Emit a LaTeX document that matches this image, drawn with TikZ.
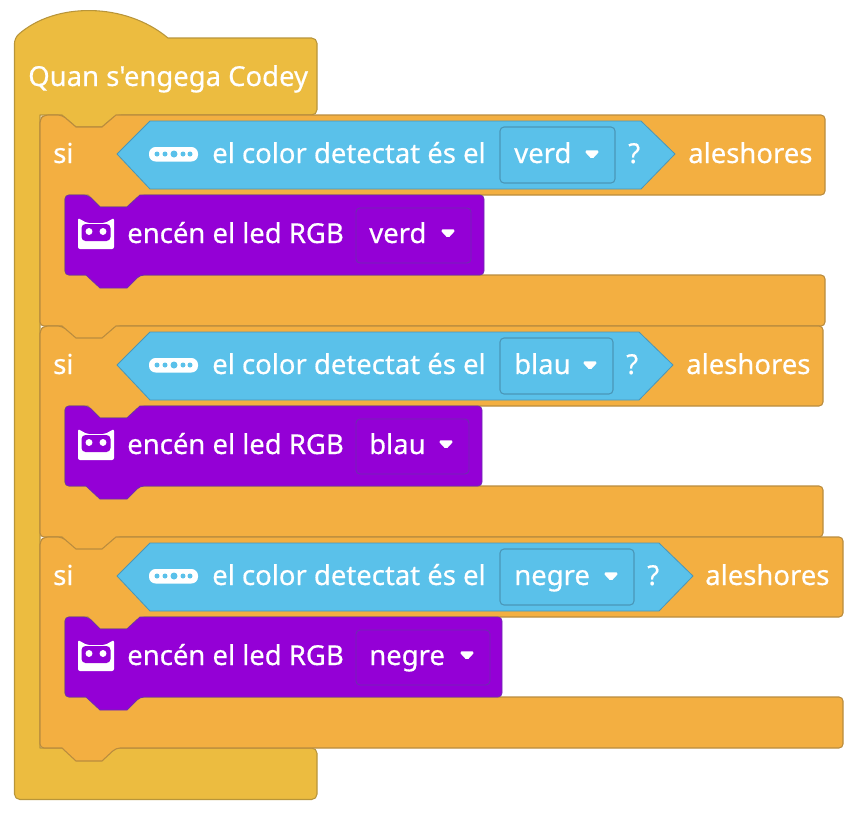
\documentclass[tikz,border=0pt]{standalone}
\usepackage{fontspec}
\newfontfamily\blockfont{Noto Sans}[FakeBold=0.5]
\usepackage{xcolor}
\usetikzlibrary{positioning,calc}
\definecolor{hatyellow}{HTML}{ECBC40}
\definecolor{hatline}{HTML}{B8953A}
\definecolor{ifbody}{HTML}{F3AF41}
\definecolor{ifline}{HTML}{BA8C3E}
\definecolor{ledbody}{HTML}{9400D6}
\definecolor{ledline}{HTML}{6F2CB0}
\definecolor{colorbody}{HTML}{5AC1EA}
\definecolor{colorline}{HTML}{4A96B8}
\tikzset{
    every picture/.style={line cap=round,line join=round},
    hatblock/.style={draw=hatline,fill=hatyellow,line width=0.8pt},
    ifblock/.style={draw=ifline,fill=ifbody,line width=0.8pt},
    ledblock/.style={draw=ledline,fill=ledbody,line width=0.6pt},
    sensor/.style={draw=colorline,fill=colorbody,line width=0.6pt},
    colormenu/.style={draw=colorline,fill=colorbody,line width=0.8pt,rounded corners=3pt},
    ledmenu/.style={draw=ledline,fill=ledbody,line width=0.7pt,rounded corners=3pt},
    blocktext/.style={text=white,font=\blockfont\fontsize{20.6}{22}\selectfont,inner sep=0pt,anchor=base west},
    menutip/.style={fill=white,draw=white,line width=0.9pt,rounded corners=1.2pt}
}
% one if block: top edge, right edge, led right, hex right, menu right, then-text x, menu text, name
\newcommand{\ifrow}[8]{%
  \draw[ifblock,rounded corners=3pt] (40,#1+11) -- (40,#1+4) -- (44,#1) -- (62,#1)
    [sharp corners] -- (76,#1+12) -- (102,#1+12) -- (116,#1) [rounded corners=3pt]
    -- (#2,#1) -- (#2,#1+80) -- (140,#1+80) [sharp corners] -- (127,#1+92) -- (100,#1+92) -- (88,#1+80)
    [rounded corners=3pt] -- (65,#1+80) -- (65,#1+160) -- (#2,#1+160) -- (#2,#1+211)
    -- (116,#1+211) [sharp corners] -- (102,#1+224) -- (76,#1+224) -- (62,#1+211)
    [rounded corners=3pt] -- (40,#1+211) -- cycle;
  \draw[ledblock,rounded corners=3pt] (65,#1+90) -- (65,#1+80) -- (88,#1+80)
    [sharp corners] -- (100,#1+92) -- (127,#1+92) -- (140,#1+80) [rounded corners=3pt]
    -- (#3,#1+80) -- (#3,#1+160) -- (140,#1+160) [sharp corners] -- (127,#1+173)
    -- (100,#1+173) -- (86,#1+160) [rounded corners=3pt] -- (65,#1+160) -- cycle;
  \draw[sensor] (117,#1+39) -- (150,#1+6) -- (#4,#1+6) -- (#4+34,#1+39) -- (#4,#1+74) -- (150,#1+74) -- cycle;
  \draw[colormenu] (500,#1+12) rectangle (#5,#1+68);
  \draw[ledmenu] (356,#1+93) rectangle (#5-144,#1+148);
  % sensor icon
  \fill[white,rounded corners=5pt] (149,#1+32) rectangle (198,#1+46.5);
  \foreach \dx/\dr in {157/2.5,165/2.5,174/3.5,183/2.5,190/2.5}{\fill[colorbody] (\dx,#1+39) circle (\dr*0.75pt);}
  \node[blocktext] (si#8) at (53,#1+48) {si};
  \node[blocktext] (color#8) at (212,#1+48) {el color detectat és el};
  \node[blocktext] (menu#8) at (514,#1+48) {#7};
  \node[blocktext] (query#8) at (#5+13,#1+48) {?};
  \node[blocktext] (then#8) at (#6,#1+48) {aleshores};
  \draw[menutip] (#5-30,#1+36) -- (#5-16,#1+36) -- (#5-23,#1+43.5) -- cycle;
  % led icon
  \fill[white,rounded corners=1.5pt] (78,#1+103) -- (87,#1+108) -- (105,#1+108) -- (114,#1+103) -- (114,#1+134) -- (78,#1+134) -- cycle;
  \fill[ledbody,rounded corners=3pt] (81.5,#1+109) rectangle (110.5,#1+126);
  \fill[white] (89,#1+116.5) circle (2.6pt) (103,#1+116.5) circle (2.6pt);
  \node[blocktext] (led#8) at (127,#1+128) {encén el led RGB};
  \node[blocktext] (ledmenu#8) at (369,#1+128) {#7};
  \draw[menutip] (#5-174,#1+115) -- (#5-160,#1+115) -- (#5-167,#1+122.5) -- cycle;
}
\begin{document}
\begin{tikzpicture}[x=0.75pt,y=-0.75pt]
  \useasboundingbox (0,0) rectangle (858,818);
  \draw[hatblock,rounded corners=4pt] (14.5,100) -- (14.5,38) [sharp corners]
    .. controls (55,2) and (125,2) .. (168,38) [rounded corners=4pt]
    -- (317,38) -- (317,115) -- (116,115) [sharp corners] -- (102,127) -- (76,127) -- (62,115)
    -- (40,115) -- (40,748) [rounded corners=4pt] -- (317,748) -- (317,799.5) -- (14.5,799.5) -- cycle;
  \node[blocktext] (start) at (28,86) {Quan s'engega Codey};
  \ifrow{115}{825}{484}{641}{615}{688}{verd}{a}
  \ifrow{326}{823}{482}{639}{613}{686}{blau}{b}
  \ifrow{537}{843}{502}{659}{634}{705}{negre}{c}
\end{tikzpicture}
\end{document}
